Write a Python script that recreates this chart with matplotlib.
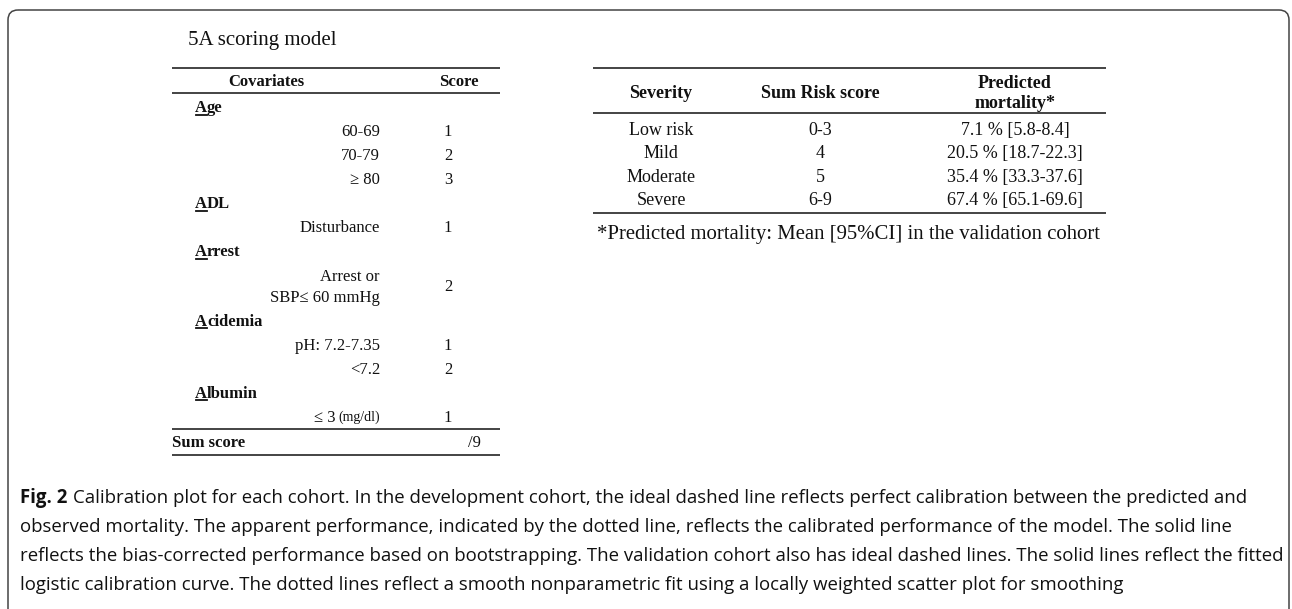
import matplotlib
matplotlib.use('Agg')
import matplotlib.pyplot as plt
from matplotlib.patches import FancyBboxPatch

# ---------------- data ----------------
title = '5A scoring model'
cov_header = ['Covariates', 'Score']
groups = ['Age', 'ADL', 'Arrest', 'Acidemia', 'Albumin']
levels = [['60-69', '70-79', '≥ 80'],
          ['Disturbance'],
          ['Arrest or\nSBP≤ 60 mmHg'],
          ['pH: 7.2-7.35', '<7.2'],
          ['≤ 3']]
level_units = [['', '', ''], [''], [''], ['', ''], ['(mg/dl)']]
scores = [[1, 2, 3], [1], [2], [1, 2], [1]]
sum_label = 'Sum score'
max_score = 9

sev_header = ['Severity', 'Sum Risk score', 'Predicted\nmortality*']
severity = ['Low risk', 'Mild', 'Moderate', 'Severe']
risk_range = ['0-3', '4', '5', '6-9']
mortality = [7.1, 20.5, 35.4, 67.4]
ci_low = [5.8, 18.7, 33.3, 65.1]
ci_high = [8.4, 22.3, 37.6, 69.6]
footnote = '*Predicted mortality: Mean [95%CI] in the validation cohort'

caption_bold = 'Fig. 2'
caption_lines = [
    'Calibration plot for each cohort. In the development cohort, the ideal dashed line reflects perfect calibration between the predicted and',
    'observed mortality. The apparent performance, indicated by the dotted line, reflects the calibrated performance of the model. The solid line',
    'reflects the bias-corrected performance based on bootstrapping. The validation cohort also has ideal dashed lines. The solid lines reflect the fitted',
    'logistic calibration curve. The dotted lines reflect a smooth nonparametric fit using a locally weighted scatter plot for smoothing',
]

# ---------------- layout ----------------
W, H = 1292, 609
SERIF = ['Liberation Serif', 'DejaVu Serif']
SANS = ['Open Sans', 'DejaVu Sans']
INK = '#111111'

fig = plt.figure(figsize=(W / 100, H / 100), dpi=100)
ax = fig.add_axes([0, 0, 1, 1])
ax.set_xlim(0, W)
ax.set_ylim(H, 0)
ax.axis('off')
renderer = fig.canvas.get_renderer()

PX = 100 / 72.0


def txt(x, y, s, size=12, weight='normal', ha='left', family=SERIF, color=INK):
    # y is the visual centre of the row; place baseline below it
    return ax.text(x, y + 0.33 * size * PX, s, fontsize=size, fontweight=weight,
                   ha=ha, va='baseline', family=family, color=color)


def width(t):
    bb = t.get_window_extent(renderer)
    return bb.x0, bb.x1


def rule(x0, x1, y, lw=1.1):
    ax.plot([x0, x1], [y, y], color=INK, lw=lw, solid_capstyle='butt')


# frame
frame = FancyBboxPatch((8, 10), 1281, 700, boxstyle='round,pad=0,rounding_size=10',
                       fc='none', ec='#444444', lw=1.1, clip_on=False)
ax.add_patch(frame)

# title
txt(188, 38, title, size=15)

# ---- left table ----
LX0, LX1 = 172, 500
SUBX = 380
SCX = 448
rule(LX0, LX1, 68)
txt(266, 81, cov_header[0], weight='bold', ha='center')
txt(459, 81, cov_header[1], weight='bold', ha='center')
rule(LX0, LX1, 93)

step = 24.0
y = 107
for g, levs, units, scs in zip(groups, levels, level_units, scores):
    tA = txt(195, y, g[0], weight='bold')
    a0, a1 = width(tA)
    ax.plot([a0 + 0.5, a1 - 0.5], [y + 0.33 * 12 * PX + 2.2] * 2, color=INK, lw=1.3)
    txt(a1, y, g[1:], weight='bold')
    y += step
    for lv, un, sc in zip(levs, units, scs):
        if '\n' in lv:
            l1, l2 = lv.split('\n')
            c = y + 0.45 * step
            txt(SUBX, c - 10.5, l1, ha='right')
            txt(SUBX, c + 10.5, l2, ha='right')
            txt(SCX, c, str(sc), ha='center')
            y += 1.9 * step
        else:
            if un:
                tu = txt(SUBX, y, un, size=10, ha='right')
                u0, u1 = width(tu)
                txt(u0 - 3, y, lv, ha='right')
            else:
                txt(SUBX, y, lv, ha='right')
            txt(SCX, y, str(sc), ha='center')
            y += step
ry = y - step + 12
rule(LX0, LX1, ry)
sy = ry + 13
txt(LX0, sy, sum_label, weight='bold')
txt(474, sy, '/' + str(max_score), ha='center')
rule(LX0, LX1, sy + 13)

# ---- right table ----
RS = 13
RX0, RX1 = 593, 1106
cols = [661, 820, 1015]
rule(RX0, RX1, 68)
txt(cols[0], 92, sev_header[0], size=RS, weight='bold', ha='center')
txt(cols[1], 92, sev_header[1], size=RS, weight='bold', ha='center')
h1, h2 = sev_header[2].split('\n')
txt(cols[2], 82, h1, size=RS, weight='bold', ha='center')
txt(cols[2], 102, h2, size=RS, weight='bold', ha='center')
rule(RX0, RX1, 113)
ry0 = 129
rstep = 23.5
for i, (sv, rr, m, lo, hi) in enumerate(zip(severity, risk_range, mortality, ci_low, ci_high)):
    yy = ry0 + i * rstep
    txt(cols[0], yy, sv, size=RS, ha='center')
    txt(cols[1], yy, rr, size=RS, ha='center')
    txt(cols[2], yy, f'{m} % [{lo}-{hi}]', size=RS, ha='center')
rule(RX0, RX1, ry0 + 3 * rstep + 13)
fn = txt(597, ry0 + 3 * rstep + 34, footnote, size=12)
f0, f1 = width(fn)
fn.set_fontsize(12 * 503 / (f1 - f0))

# ---- caption ----
cx0 = 20
base = 12.0
probe = txt(cx0, 555, caption_lines[2], size=base, family=SANS)
p0, p1 = width(probe)
probe.remove()
cs = base * (1280 - cx0) / (p1 - p0)
tb = txt(cx0, 497, caption_bold, size=cs, weight='bold', family=SANS)
b0, b1 = width(tb)
txt(b1 + 0.28 * cs * PX, 497, caption_lines[0], size=cs, family=SANS)
for k, line in enumerate(caption_lines[1:], start=1):
    txt(cx0, 497 + 29 * k, line, size=cs, family=SANS)

fig.savefig('out.png', dpi=100)
